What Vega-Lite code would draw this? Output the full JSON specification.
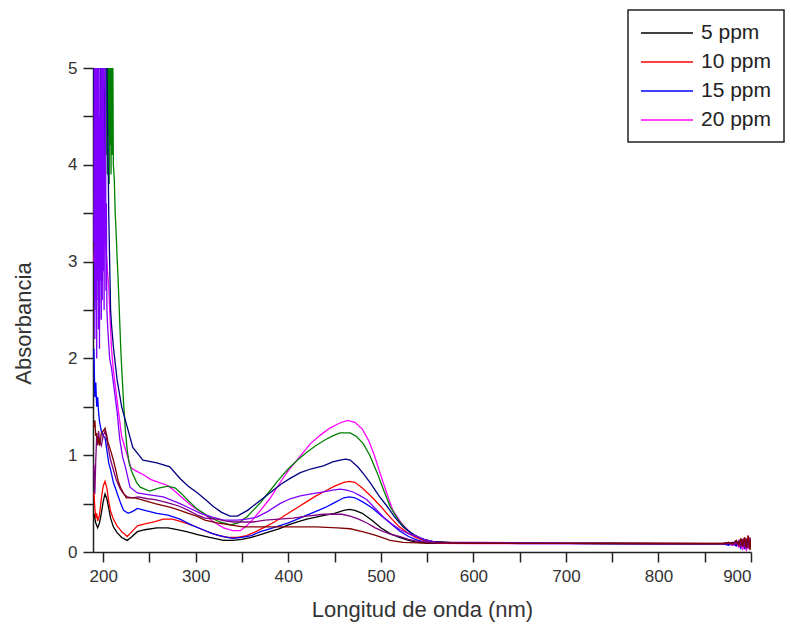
{
"$schema":"https://vega.github.io/schema/vega-lite/v6.json",
"width":658,"height":484,
"autosize":{"type":"none"},
"padding":{"left":93,"top":68,"right":40,"bottom":74},
"background":"white",
"config":{"view":{"stroke":null},"font":"Liberation Sans"},
"datasets":{
"spec":[
{"s":"5 ppm","x":190,"y":0.40},{"s":"5 ppm","x":192,"y":0.30},{"s":"5 ppm","x":194,"y":0.25},{"s":"5 ppm","x":196,"y":0.30},{"s":"5 ppm","x":198,"y":0.40},{"s":"5 ppm","x":200,"y":0.52},{"s":"5 ppm","x":202,"y":0.60},{"s":"5 ppm","x":204,"y":0.55},{"s":"5 ppm","x":206,"y":0.45},{"s":"5 ppm","x":208,"y":0.35},{"s":"5 ppm","x":211,"y":0.26},{"s":"5 ppm","x":215,"y":0.20},{"s":"5 ppm","x":220,"y":0.15},{"s":"5 ppm","x":226,"y":0.12},{"s":"5 ppm","x":230,"y":0.15},{"s":"5 ppm","x":237,"y":0.21},{"s":"5 ppm","x":245,"y":0.23},{"s":"5 ppm","x":258,"y":0.25},{"s":"5 ppm","x":270,"y":0.25},{"s":"5 ppm","x":280,"y":0.23},{"s":"5 ppm","x":290,"y":0.21},{"s":"5 ppm","x":302,"y":0.18},{"s":"5 ppm","x":315,"y":0.15},{"s":"5 ppm","x":330,"y":0.12},{"s":"5 ppm","x":340,"y":0.12},{"s":"5 ppm","x":350,"y":0.13},{"s":"5 ppm","x":360,"y":0.15},{"s":"5 ppm","x":370,"y":0.18},{"s":"5 ppm","x":380,"y":0.21},{"s":"5 ppm","x":390,"y":0.24},{"s":"5 ppm","x":400,"y":0.28},{"s":"5 ppm","x":410,"y":0.31},{"s":"5 ppm","x":420,"y":0.34},{"s":"5 ppm","x":430,"y":0.36},{"s":"5 ppm","x":440,"y":0.38},{"s":"5 ppm","x":450,"y":0.40},{"s":"5 ppm","x":460,"y":0.43},{"s":"5 ppm","x":466,"y":0.44},{"s":"5 ppm","x":472,"y":0.43},{"s":"5 ppm","x":480,"y":0.40},{"s":"5 ppm","x":490,"y":0.33},{"s":"5 ppm","x":500,"y":0.25},{"s":"5 ppm","x":510,"y":0.19},{"s":"5 ppm","x":520,"y":0.15},{"s":"5 ppm","x":530,"y":0.12},{"s":"5 ppm","x":540,"y":0.10},{"s":"5 ppm","x":550,"y":0.09},{"s":"5 ppm","x":560,"y":0.095},{"s":"5 ppm","x":600,"y":0.09},{"s":"5 ppm","x":650,"y":0.09},{"s":"5 ppm","x":700,"y":0.09},{"s":"5 ppm","x":750,"y":0.088},{"s":"5 ppm","x":800,"y":0.087},{"s":"5 ppm","x":850,"y":0.086},{"s":"5 ppm","x":870,"y":0.086},{"s":"5 ppm","x":876,"y":0.09},{"s":"5 ppm","x":880,"y":0.07},{"s":"5 ppm","x":884,"y":0.10},{"s":"5 ppm","x":887,"y":0.06},{"s":"5 ppm","x":889,"y":0.11},{"s":"5 ppm","x":891,"y":0.05},{"s":"5 ppm","x":893,"y":0.12},{"s":"5 ppm","x":895,"y":0.07},{"s":"5 ppm","x":897,"y":0.13},{"s":"5 ppm","x":899,"y":0.04},{"s":"5 ppm","x":900,"y":0.10},

{"s":"10 ppm","x":190,"y":0.62},{"s":"10 ppm","x":191,"y":0.45},{"s":"10 ppm","x":192,"y":0.35},{"s":"10 ppm","x":193,"y":0.40},{"s":"10 ppm","x":194,"y":0.32},{"s":"10 ppm","x":196,"y":0.38},{"s":"10 ppm","x":198,"y":0.55},{"s":"10 ppm","x":200,"y":0.68},{"s":"10 ppm","x":202,"y":0.73},{"s":"10 ppm","x":204,"y":0.66},{"s":"10 ppm","x":206,"y":0.52},{"s":"10 ppm","x":208,"y":0.42},{"s":"10 ppm","x":211,"y":0.34},{"s":"10 ppm","x":215,"y":0.27},{"s":"10 ppm","x":220,"y":0.21},{"s":"10 ppm","x":226,"y":0.16},{"s":"10 ppm","x":230,"y":0.20},{"s":"10 ppm","x":237,"y":0.27},{"s":"10 ppm","x":245,"y":0.29},{"s":"10 ppm","x":255,"y":0.31},{"s":"10 ppm","x":265,"y":0.34},{"s":"10 ppm","x":275,"y":0.34},{"s":"10 ppm","x":285,"y":0.31},{"s":"10 ppm","x":295,"y":0.28},{"s":"10 ppm","x":305,"y":0.24},{"s":"10 ppm","x":315,"y":0.20},{"s":"10 ppm","x":325,"y":0.17},{"s":"10 ppm","x":335,"y":0.15},{"s":"10 ppm","x":345,"y":0.15},{"s":"10 ppm","x":355,"y":0.17},{"s":"10 ppm","x":365,"y":0.21},{"s":"10 ppm","x":375,"y":0.26},{"s":"10 ppm","x":385,"y":0.31},{"s":"10 ppm","x":400,"y":0.40},{"s":"10 ppm","x":410,"y":0.46},{"s":"10 ppm","x":420,"y":0.52},{"s":"10 ppm","x":430,"y":0.58},{"s":"10 ppm","x":440,"y":0.63},{"s":"10 ppm","x":450,"y":0.68},{"s":"10 ppm","x":460,"y":0.72},{"s":"10 ppm","x":466,"y":0.73},{"s":"10 ppm","x":472,"y":0.72},{"s":"10 ppm","x":480,"y":0.66},{"s":"10 ppm","x":490,"y":0.57},{"s":"10 ppm","x":500,"y":0.47},{"s":"10 ppm","x":510,"y":0.36},{"s":"10 ppm","x":520,"y":0.26},{"s":"10 ppm","x":530,"y":0.19},{"s":"10 ppm","x":540,"y":0.14},{"s":"10 ppm","x":550,"y":0.11},{"s":"10 ppm","x":560,"y":0.10},{"s":"10 ppm","x":600,"y":0.095},{"s":"10 ppm","x":650,"y":0.09},{"s":"10 ppm","x":700,"y":0.09},{"s":"10 ppm","x":750,"y":0.089},{"s":"10 ppm","x":800,"y":0.088},{"s":"10 ppm","x":850,"y":0.087},{"s":"10 ppm","x":870,"y":0.087},{"s":"10 ppm","x":876,"y":0.10},{"s":"10 ppm","x":880,"y":0.08},{"s":"10 ppm","x":884,"y":0.11},{"s":"10 ppm","x":887,"y":0.09},{"s":"10 ppm","x":889,"y":0.13},{"s":"10 ppm","x":891,"y":0.07},{"s":"10 ppm","x":893,"y":0.15},{"s":"10 ppm","x":895,"y":0.06},{"s":"10 ppm","x":897,"y":0.17},{"s":"10 ppm","x":899,"y":0.09},{"s":"10 ppm","x":900,"y":0.12},

{"s":"15 ppm","x":190,"y":2.1},{"s":"15 ppm","x":191,"y":1.6},{"s":"15 ppm","x":192,"y":1.75},{"s":"15 ppm","x":193,"y":1.5},{"s":"15 ppm","x":194,"y":1.6},{"s":"15 ppm","x":195,"y":1.45},{"s":"15 ppm","x":196,"y":1.35},{"s":"15 ppm","x":198,"y":1.25},{"s":"15 ppm","x":200,"y":1.2},{"s":"15 ppm","x":202,"y":1.18},{"s":"15 ppm","x":204,"y":1.05},{"s":"15 ppm","x":206,"y":0.92},{"s":"15 ppm","x":208,"y":0.85},{"s":"15 ppm","x":211,"y":0.72},{"s":"15 ppm","x":215,"y":0.61},{"s":"15 ppm","x":219,"y":0.50},{"s":"15 ppm","x":222,"y":0.43},{"s":"15 ppm","x":227,"y":0.40},{"s":"15 ppm","x":232,"y":0.42},{"s":"15 ppm","x":237,"y":0.45},{"s":"15 ppm","x":245,"y":0.43},{"s":"15 ppm","x":258,"y":0.40},{"s":"15 ppm","x":270,"y":0.38},{"s":"15 ppm","x":283,"y":0.34},{"s":"15 ppm","x":295,"y":0.28},{"s":"15 ppm","x":308,"y":0.23},{"s":"15 ppm","x":318,"y":0.19},{"s":"15 ppm","x":330,"y":0.16},{"s":"15 ppm","x":340,"y":0.14},{"s":"15 ppm","x":350,"y":0.15},{"s":"15 ppm","x":360,"y":0.17},{"s":"15 ppm","x":370,"y":0.21},{"s":"15 ppm","x":380,"y":0.24},{"s":"15 ppm","x":390,"y":0.27},{"s":"15 ppm","x":400,"y":0.30},{"s":"15 ppm","x":410,"y":0.34},{"s":"15 ppm","x":420,"y":0.38},{"s":"15 ppm","x":430,"y":0.42},{"s":"15 ppm","x":440,"y":0.46},{"s":"15 ppm","x":450,"y":0.51},{"s":"15 ppm","x":460,"y":0.56},{"s":"15 ppm","x":466,"y":0.57},{"s":"15 ppm","x":472,"y":0.56},{"s":"15 ppm","x":480,"y":0.52},{"s":"15 ppm","x":490,"y":0.46},{"s":"15 ppm","x":500,"y":0.38},{"s":"15 ppm","x":510,"y":0.30},{"s":"15 ppm","x":520,"y":0.22},{"s":"15 ppm","x":530,"y":0.16},{"s":"15 ppm","x":540,"y":0.12},{"s":"15 ppm","x":550,"y":0.10},{"s":"15 ppm","x":560,"y":0.09},{"s":"15 ppm","x":600,"y":0.09},{"s":"15 ppm","x":650,"y":0.088},{"s":"15 ppm","x":700,"y":0.087},{"s":"15 ppm","x":750,"y":0.086},{"s":"15 ppm","x":800,"y":0.085},{"s":"15 ppm","x":850,"y":0.084},{"s":"15 ppm","x":870,"y":0.084},{"s":"15 ppm","x":876,"y":0.07},{"s":"15 ppm","x":880,"y":0.09},{"s":"15 ppm","x":884,"y":0.06},{"s":"15 ppm","x":887,"y":0.10},{"s":"15 ppm","x":889,"y":0.04},{"s":"15 ppm","x":891,"y":0.11},{"s":"15 ppm","x":893,"y":0.03},{"s":"15 ppm","x":895,"y":0.10},{"s":"15 ppm","x":897,"y":0.05},{"s":"15 ppm","x":899,"y":0.12},{"s":"15 ppm","x":900,"y":0.04},

{"s":"20 ppm","x":190,"y":3.0},{"s":"20 ppm","x":192,"y":3.5},{"s":"20 ppm","x":194,"y":2.8},{"s":"20 ppm","x":196,"y":3.3},{"s":"20 ppm","x":198,"y":3.0},{"s":"20 ppm","x":200,"y":3.2},{"s":"20 ppm","x":202,"y":3.25},{"s":"20 ppm","x":204,"y":3.0},{"s":"20 ppm","x":205,"y":2.85},{"s":"20 ppm","x":206,"y":2.75},{"s":"20 ppm","x":207,"y":2.5},{"s":"20 ppm","x":208,"y":2.3},{"s":"20 ppm","x":209,"y":2.1},{"s":"20 ppm","x":211,"y":1.88},{"s":"20 ppm","x":215,"y":1.57},{"s":"20 ppm","x":220,"y":1.19},{"s":"20 ppm","x":226,"y":1.0},{"s":"20 ppm","x":230,"y":0.87},{"s":"20 ppm","x":235,"y":0.84},{"s":"20 ppm","x":245,"y":0.79},{"s":"20 ppm","x":251,"y":0.75},{"s":"20 ppm","x":260,"y":0.72},{"s":"20 ppm","x":269,"y":0.69},{"s":"20 ppm","x":276,"y":0.64},{"s":"20 ppm","x":283,"y":0.58},{"s":"20 ppm","x":295,"y":0.48},{"s":"20 ppm","x":308,"y":0.40},{"s":"20 ppm","x":318,"y":0.32},{"s":"20 ppm","x":330,"y":0.25},{"s":"20 ppm","x":340,"y":0.22},{"s":"20 ppm","x":348,"y":0.22},{"s":"20 ppm","x":355,"y":0.27},{"s":"20 ppm","x":362,"y":0.34},{"s":"20 ppm","x":370,"y":0.43},{"s":"20 ppm","x":380,"y":0.55},{"s":"20 ppm","x":390,"y":0.70},{"s":"20 ppm","x":400,"y":0.84},{"s":"20 ppm","x":412,"y":0.98},{"s":"20 ppm","x":424,"y":1.12},{"s":"20 ppm","x":435,"y":1.21},{"s":"20 ppm","x":445,"y":1.28},{"s":"20 ppm","x":455,"y":1.33},{"s":"20 ppm","x":464,"y":1.36},{"s":"20 ppm","x":472,"y":1.34},{"s":"20 ppm","x":480,"y":1.27},{"s":"20 ppm","x":487,"y":1.15},{"s":"20 ppm","x":493,"y":1.0},{"s":"20 ppm","x":499,"y":0.82},{"s":"20 ppm","x":506,"y":0.62},{"s":"20 ppm","x":513,"y":0.43},{"s":"20 ppm","x":522,"y":0.30},{"s":"20 ppm","x":532,"y":0.20},{"s":"20 ppm","x":543,"y":0.14},{"s":"20 ppm","x":553,"y":0.11},{"s":"20 ppm","x":565,"y":0.09},{"s":"20 ppm","x":600,"y":0.088},{"s":"20 ppm","x":650,"y":0.087},{"s":"20 ppm","x":700,"y":0.086},{"s":"20 ppm","x":750,"y":0.085},{"s":"20 ppm","x":800,"y":0.085},{"s":"20 ppm","x":850,"y":0.084},{"s":"20 ppm","x":870,"y":0.084},{"s":"20 ppm","x":876,"y":0.09},{"s":"20 ppm","x":880,"y":0.07},{"s":"20 ppm","x":884,"y":0.08},{"s":"20 ppm","x":887,"y":0.05},{"s":"20 ppm","x":889,"y":0.09},{"s":"20 ppm","x":891,"y":0.03},{"s":"20 ppm","x":893,"y":0.08},{"s":"20 ppm","x":895,"y":0.02},{"s":"20 ppm","x":897,"y":0.07},{"s":"20 ppm","x":899,"y":0.04},{"s":"20 ppm","x":900,"y":0.06},

{"s":"25 ppm","x":190,"y":3.5},{"s":"25 ppm","x":192,"y":4.6},{"s":"25 ppm","x":194,"y":5},{"s":"25 ppm","x":200,"y":5},{"s":"25 ppm","x":203,"y":5},{"s":"25 ppm","x":203.5,"y":4.1},{"s":"25 ppm","x":204,"y":5},{"s":"25 ppm","x":204.5,"y":3.9},{"s":"25 ppm","x":205,"y":5},{"s":"25 ppm","x":205.5,"y":4.3},{"s":"25 ppm","x":206,"y":5},{"s":"25 ppm","x":206.5,"y":3.8},{"s":"25 ppm","x":207,"y":5},{"s":"25 ppm","x":207.5,"y":4.2},{"s":"25 ppm","x":208,"y":5},{"s":"25 ppm","x":208.5,"y":3.9},{"s":"25 ppm","x":209,"y":5},{"s":"25 ppm","x":209.5,"y":4.1},{"s":"25 ppm","x":210,"y":5},{"s":"25 ppm","x":210.5,"y":5},{"s":"25 ppm","x":211,"y":4.0},{"s":"25 ppm","x":212,"y":3.85},{"s":"25 ppm","x":213,"y":3.5},{"s":"25 ppm","x":214,"y":3.3},{"s":"25 ppm","x":215,"y":3.05},{"s":"25 ppm","x":216,"y":2.85},{"s":"25 ppm","x":217,"y":2.6},{"s":"25 ppm","x":218,"y":2.35},{"s":"25 ppm","x":219,"y":2.1},{"s":"25 ppm","x":220,"y":1.9},{"s":"25 ppm","x":222,"y":1.55},{"s":"25 ppm","x":224,"y":1.25},{"s":"25 ppm","x":226,"y":1.05},{"s":"25 ppm","x":228,"y":0.92},{"s":"25 ppm","x":231,"y":0.83},{"s":"25 ppm","x":236,"y":0.72},{"s":"25 ppm","x":240,"y":0.67},{"s":"25 ppm","x":250,"y":0.63},{"s":"25 ppm","x":260,"y":0.66},{"s":"25 ppm","x":270,"y":0.68},{"s":"25 ppm","x":278,"y":0.66},{"s":"25 ppm","x":285,"y":0.60},{"s":"25 ppm","x":292,"y":0.53},{"s":"25 ppm","x":302,"y":0.44},{"s":"25 ppm","x":315,"y":0.36},{"s":"25 ppm","x":326,"y":0.31},{"s":"25 ppm","x":338,"y":0.28},{"s":"25 ppm","x":346,"y":0.30},{"s":"25 ppm","x":355,"y":0.36},{"s":"25 ppm","x":362,"y":0.43},{"s":"25 ppm","x":370,"y":0.51},{"s":"25 ppm","x":380,"y":0.63},{"s":"25 ppm","x":390,"y":0.75},{"s":"25 ppm","x":400,"y":0.86},{"s":"25 ppm","x":410,"y":0.95},{"s":"25 ppm","x":420,"y":1.03},{"s":"25 ppm","x":430,"y":1.10},{"s":"25 ppm","x":440,"y":1.16},{"s":"25 ppm","x":448,"y":1.20},{"s":"25 ppm","x":456,"y":1.23},{"s":"25 ppm","x":467,"y":1.23},{"s":"25 ppm","x":474,"y":1.19},{"s":"25 ppm","x":481,"y":1.12},{"s":"25 ppm","x":488,"y":1.00},{"s":"25 ppm","x":496,"y":0.82},{"s":"25 ppm","x":503,"y":0.64},{"s":"25 ppm","x":510,"y":0.47},{"s":"25 ppm","x":519,"y":0.33},{"s":"25 ppm","x":528,"y":0.23},{"s":"25 ppm","x":537,"y":0.17},{"s":"25 ppm","x":546,"y":0.13},{"s":"25 ppm","x":556,"y":0.11},{"s":"25 ppm","x":580,"y":0.095},{"s":"25 ppm","x":650,"y":0.09},{"s":"25 ppm","x":700,"y":0.09},{"s":"25 ppm","x":750,"y":0.088},{"s":"25 ppm","x":800,"y":0.087},{"s":"25 ppm","x":850,"y":0.086},{"s":"25 ppm","x":870,"y":0.086},{"s":"25 ppm","x":876,"y":0.10},{"s":"25 ppm","x":880,"y":0.09},{"s":"25 ppm","x":884,"y":0.11},{"s":"25 ppm","x":887,"y":0.08},{"s":"25 ppm","x":889,"y":0.12},{"s":"25 ppm","x":891,"y":0.07},{"s":"25 ppm","x":893,"y":0.13},{"s":"25 ppm","x":895,"y":0.06},{"s":"25 ppm","x":897,"y":0.14},{"s":"25 ppm","x":899,"y":0.08},{"s":"25 ppm","x":900,"y":0.12},

{"s":"30 ppm","x":190,"y":5},{"s":"30 ppm","x":191,"y":2.5},{"s":"30 ppm","x":192,"y":4},{"s":"30 ppm","x":193,"y":2.6},{"s":"30 ppm","x":194,"y":5},{"s":"30 ppm","x":195,"y":3.0},{"s":"30 ppm","x":196,"y":2.4},{"s":"30 ppm","x":197,"y":5},{"s":"30 ppm","x":198,"y":3.5},{"s":"30 ppm","x":199,"y":2.8},{"s":"30 ppm","x":200,"y":5},{"s":"30 ppm","x":201,"y":4},{"s":"30 ppm","x":202,"y":5},{"s":"30 ppm","x":204,"y":5},{"s":"30 ppm","x":205,"y":4.3},{"s":"30 ppm","x":206,"y":3.5},{"s":"30 ppm","x":207,"y":3.0},{"s":"30 ppm","x":208,"y":2.5},{"s":"30 ppm","x":209,"y":2.35},{"s":"30 ppm","x":211,"y":2.12},{"s":"30 ppm","x":215,"y":1.78},{"s":"30 ppm","x":220,"y":1.5},{"s":"30 ppm","x":226,"y":1.29},{"s":"30 ppm","x":232,"y":1.08},{"s":"30 ppm","x":243,"y":0.95},{"s":"30 ppm","x":258,"y":0.92},{"s":"30 ppm","x":272,"y":0.88},{"s":"30 ppm","x":283,"y":0.76},{"s":"30 ppm","x":292,"y":0.68},{"s":"30 ppm","x":302,"y":0.61},{"s":"30 ppm","x":312,"y":0.53},{"s":"30 ppm","x":319,"y":0.47},{"s":"30 ppm","x":328,"y":0.41},{"s":"30 ppm","x":337,"y":0.37},{"s":"30 ppm","x":345,"y":0.37},{"s":"30 ppm","x":356,"y":0.43},{"s":"30 ppm","x":368,"y":0.52},{"s":"30 ppm","x":380,"y":0.61},{"s":"30 ppm","x":392,"y":0.70},{"s":"30 ppm","x":402,"y":0.76},{"s":"30 ppm","x":413,"y":0.82},{"s":"30 ppm","x":425,"y":0.86},{"s":"30 ppm","x":438,"y":0.89},{"s":"30 ppm","x":448,"y":0.93},{"s":"30 ppm","x":456,"y":0.95},{"s":"30 ppm","x":462,"y":0.96},{"s":"30 ppm","x":467,"y":0.95},{"s":"30 ppm","x":475,"y":0.88},{"s":"30 ppm","x":482,"y":0.80},{"s":"30 ppm","x":489,"y":0.71},{"s":"30 ppm","x":498,"y":0.58},{"s":"30 ppm","x":507,"y":0.47},{"s":"30 ppm","x":515,"y":0.36},{"s":"30 ppm","x":524,"y":0.26},{"s":"30 ppm","x":535,"y":0.18},{"s":"30 ppm","x":546,"y":0.13},{"s":"30 ppm","x":556,"y":0.11},{"s":"30 ppm","x":580,"y":0.095},{"s":"30 ppm","x":650,"y":0.09},{"s":"30 ppm","x":700,"y":0.09},{"s":"30 ppm","x":750,"y":0.088},{"s":"30 ppm","x":800,"y":0.087},{"s":"30 ppm","x":850,"y":0.086},{"s":"30 ppm","x":870,"y":0.086},{"s":"30 ppm","x":876,"y":0.08},{"s":"30 ppm","x":880,"y":0.10},{"s":"30 ppm","x":884,"y":0.07},{"s":"30 ppm","x":887,"y":0.11},{"s":"30 ppm","x":889,"y":0.06},{"s":"30 ppm","x":891,"y":0.12},{"s":"30 ppm","x":893,"y":0.05},{"s":"30 ppm","x":895,"y":0.13},{"s":"30 ppm","x":897,"y":0.05},{"s":"30 ppm","x":899,"y":0.12},{"s":"30 ppm","x":900,"y":0.08},

{"s":"35 ppm","x":190,"y":3.2},{"s":"35 ppm","x":190.5,"y":5},{"s":"35 ppm","x":191,"y":2.2},{"s":"35 ppm","x":191.5,"y":5},{"s":"35 ppm","x":192,"y":2.6},{"s":"35 ppm","x":192.5,"y":5},{"s":"35 ppm","x":193,"y":2.0},{"s":"35 ppm","x":193.5,"y":5},{"s":"35 ppm","x":194,"y":3.0},{"s":"35 ppm","x":194.5,"y":5},{"s":"35 ppm","x":195,"y":2.3},{"s":"35 ppm","x":195.5,"y":5},{"s":"35 ppm","x":196,"y":2.1},{"s":"35 ppm","x":196.5,"y":4.5},{"s":"35 ppm","x":197,"y":2.8},{"s":"35 ppm","x":197.5,"y":5},{"s":"35 ppm","x":198,"y":2.4},{"s":"35 ppm","x":198.5,"y":5},{"s":"35 ppm","x":199,"y":2.6},{"s":"35 ppm","x":199.5,"y":5},{"s":"35 ppm","x":200,"y":2.9},{"s":"35 ppm","x":200.5,"y":5},{"s":"35 ppm","x":201,"y":2.5},{"s":"35 ppm","x":201.5,"y":4.0},{"s":"35 ppm","x":202,"y":3.2},{"s":"35 ppm","x":202.5,"y":5},{"s":"35 ppm","x":203,"y":2.7},{"s":"35 ppm","x":203.5,"y":3.6},{"s":"35 ppm","x":204,"y":2.5},{"s":"35 ppm","x":205,"y":2.3},{"s":"35 ppm","x":206,"y":2.15},{"s":"35 ppm","x":207,"y":2.0},{"s":"35 ppm","x":209,"y":1.9},{"s":"35 ppm","x":211,"y":1.75},{"s":"35 ppm","x":213,"y":1.6},{"s":"35 ppm","x":215,"y":1.45},{"s":"35 ppm","x":218,"y":1.16},{"s":"35 ppm","x":221,"y":0.98},{"s":"35 ppm","x":224,"y":0.88},{"s":"35 ppm","x":229,"y":0.67},{"s":"35 ppm","x":237,"y":0.61},{"s":"35 ppm","x":250,"y":0.59},{"s":"35 ppm","x":265,"y":0.57},{"s":"35 ppm","x":283,"y":0.50},{"s":"35 ppm","x":292,"y":0.46},{"s":"35 ppm","x":305,"y":0.40},{"s":"35 ppm","x":318,"y":0.36},{"s":"35 ppm","x":330,"y":0.33},{"s":"35 ppm","x":345,"y":0.33},{"s":"35 ppm","x":355,"y":0.34},{"s":"35 ppm","x":366,"y":0.36},{"s":"35 ppm","x":378,"y":0.42},{"s":"35 ppm","x":391,"y":0.50},{"s":"35 ppm","x":402,"y":0.55},{"s":"35 ppm","x":413,"y":0.58},{"s":"35 ppm","x":425,"y":0.60},{"s":"35 ppm","x":438,"y":0.62},{"s":"35 ppm","x":448,"y":0.64},{"s":"35 ppm","x":456,"y":0.65},{"s":"35 ppm","x":463,"y":0.64},{"s":"35 ppm","x":470,"y":0.62},{"s":"35 ppm","x":478,"y":0.58},{"s":"35 ppm","x":485,"y":0.54},{"s":"35 ppm","x":494,"y":0.45},{"s":"35 ppm","x":503,"y":0.36},{"s":"35 ppm","x":512,"y":0.29},{"s":"35 ppm","x":521,"y":0.23},{"s":"35 ppm","x":530,"y":0.19},{"s":"35 ppm","x":539,"y":0.16},{"s":"35 ppm","x":550,"y":0.12},{"s":"35 ppm","x":560,"y":0.10},{"s":"35 ppm","x":600,"y":0.095},{"s":"35 ppm","x":650,"y":0.092},{"s":"35 ppm","x":700,"y":0.09},{"s":"35 ppm","x":750,"y":0.089},{"s":"35 ppm","x":800,"y":0.088},{"s":"35 ppm","x":850,"y":0.087},{"s":"35 ppm","x":870,"y":0.087},{"s":"35 ppm","x":876,"y":0.09},{"s":"35 ppm","x":880,"y":0.08},{"s":"35 ppm","x":884,"y":0.10},{"s":"35 ppm","x":887,"y":0.07},{"s":"35 ppm","x":889,"y":0.11},{"s":"35 ppm","x":891,"y":0.06},{"s":"35 ppm","x":893,"y":0.09},{"s":"35 ppm","x":895,"y":0.04},{"s":"35 ppm","x":897,"y":0.10},{"s":"35 ppm","x":899,"y":0.05},{"s":"35 ppm","x":900,"y":0.08},

{"s":"40 ppm","x":190,"y":0.9},{"s":"40 ppm","x":191,"y":0.6},{"s":"40 ppm","x":192,"y":0.95},{"s":"40 ppm","x":193,"y":1.2},{"s":"40 ppm","x":194,"y":1.1},{"s":"40 ppm","x":195,"y":1.25},{"s":"40 ppm","x":196,"y":1.15},{"s":"40 ppm","x":198,"y":1.1},{"s":"40 ppm","x":200,"y":1.2},{"s":"40 ppm","x":202,"y":1.25},{"s":"40 ppm","x":204,"y":1.15},{"s":"40 ppm","x":206,"y":1.05},{"s":"40 ppm","x":208,"y":0.95},{"s":"40 ppm","x":211,"y":0.85},{"s":"40 ppm","x":214,"y":0.75},{"s":"40 ppm","x":218,"y":0.66},{"s":"40 ppm","x":222,"y":0.60},{"s":"40 ppm","x":226,"y":0.57},{"s":"40 ppm","x":232,"y":0.56},{"s":"40 ppm","x":238,"y":0.57},{"s":"40 ppm","x":248,"y":0.55},{"s":"40 ppm","x":256,"y":0.54},{"s":"40 ppm","x":265,"y":0.52},{"s":"40 ppm","x":273,"y":0.50},{"s":"40 ppm","x":283,"y":0.47},{"s":"40 ppm","x":292,"y":0.43},{"s":"40 ppm","x":302,"y":0.38},{"s":"40 ppm","x":310,"y":0.35},{"s":"40 ppm","x":323,"y":0.34},{"s":"40 ppm","x":333,"y":0.32},{"s":"40 ppm","x":341,"y":0.31},{"s":"40 ppm","x":352,"y":0.31},{"s":"40 ppm","x":362,"y":0.31},{"s":"40 ppm","x":375,"y":0.33},{"s":"40 ppm","x":390,"y":0.34},{"s":"40 ppm","x":405,"y":0.35},{"s":"40 ppm","x":420,"y":0.37},{"s":"40 ppm","x":438,"y":0.39},{"s":"40 ppm","x":450,"y":0.39},{"s":"40 ppm","x":458,"y":0.39},{"s":"40 ppm","x":467,"y":0.37},{"s":"40 ppm","x":476,"y":0.34},{"s":"40 ppm","x":485,"y":0.30},{"s":"40 ppm","x":494,"y":0.25},{"s":"40 ppm","x":503,"y":0.21},{"s":"40 ppm","x":512,"y":0.18},{"s":"40 ppm","x":521,"y":0.16},{"s":"40 ppm","x":530,"y":0.13},{"s":"40 ppm","x":540,"y":0.11},{"s":"40 ppm","x":555,"y":0.10},{"s":"40 ppm","x":600,"y":0.10},{"s":"40 ppm","x":650,"y":0.095},{"s":"40 ppm","x":700,"y":0.092},{"s":"40 ppm","x":750,"y":0.09},{"s":"40 ppm","x":800,"y":0.089},{"s":"40 ppm","x":850,"y":0.088},{"s":"40 ppm","x":870,"y":0.088},{"s":"40 ppm","x":876,"y":0.09},{"s":"40 ppm","x":880,"y":0.10},{"s":"40 ppm","x":884,"y":0.08},{"s":"40 ppm","x":887,"y":0.12},{"s":"40 ppm","x":889,"y":0.06},{"s":"40 ppm","x":891,"y":0.13},{"s":"40 ppm","x":893,"y":0.05},{"s":"40 ppm","x":895,"y":0.14},{"s":"40 ppm","x":897,"y":0.04},{"s":"40 ppm","x":899,"y":0.15},{"s":"40 ppm","x":900,"y":0.07},

{"s":"45 ppm","x":190,"y":1.29},{"s":"45 ppm","x":191,"y":1.36},{"s":"45 ppm","x":192,"y":1.2},{"s":"45 ppm","x":193,"y":1.23},{"s":"45 ppm","x":194,"y":1.12},{"s":"45 ppm","x":195,"y":1.18},{"s":"45 ppm","x":196,"y":1.1},{"s":"45 ppm","x":197,"y":1.15},{"s":"45 ppm","x":198,"y":1.23},{"s":"45 ppm","x":200,"y":1.25},{"s":"45 ppm","x":202,"y":1.28},{"s":"45 ppm","x":204,"y":1.2},{"s":"45 ppm","x":205,"y":1.14},{"s":"45 ppm","x":208,"y":1.05},{"s":"45 ppm","x":211,"y":0.95},{"s":"45 ppm","x":214,"y":0.83},{"s":"45 ppm","x":216,"y":0.74},{"s":"45 ppm","x":219,"y":0.66},{"s":"45 ppm","x":222,"y":0.61},{"s":"45 ppm","x":225,"y":0.56},{"s":"45 ppm","x":230,"y":0.56},{"s":"45 ppm","x":234,"y":0.56},{"s":"45 ppm","x":245,"y":0.53},{"s":"45 ppm","x":256,"y":0.50},{"s":"45 ppm","x":265,"y":0.48},{"s":"45 ppm","x":273,"y":0.46},{"s":"45 ppm","x":283,"y":0.43},{"s":"45 ppm","x":292,"y":0.40},{"s":"45 ppm","x":301,"y":0.37},{"s":"45 ppm","x":310,"y":0.33},{"s":"45 ppm","x":323,"y":0.30},{"s":"45 ppm","x":337,"y":0.28},{"s":"45 ppm","x":351,"y":0.26},{"s":"45 ppm","x":373,"y":0.26},{"s":"45 ppm","x":390,"y":0.26},{"s":"45 ppm","x":405,"y":0.26},{"s":"45 ppm","x":430,"y":0.26},{"s":"45 ppm","x":453,"y":0.25},{"s":"45 ppm","x":467,"y":0.24},{"s":"45 ppm","x":480,"y":0.21},{"s":"45 ppm","x":492,"y":0.18},{"s":"45 ppm","x":501,"y":0.15},{"s":"45 ppm","x":510,"y":0.12},{"s":"45 ppm","x":524,"y":0.10},{"s":"45 ppm","x":540,"y":0.095},{"s":"45 ppm","x":560,"y":0.092},{"s":"45 ppm","x":600,"y":0.09},{"s":"45 ppm","x":650,"y":0.09},{"s":"45 ppm","x":700,"y":0.09},{"s":"45 ppm","x":750,"y":0.089},{"s":"45 ppm","x":800,"y":0.088},{"s":"45 ppm","x":850,"y":0.088},{"s":"45 ppm","x":870,"y":0.088},{"s":"45 ppm","x":876,"y":0.10},{"s":"45 ppm","x":880,"y":0.08},{"s":"45 ppm","x":884,"y":0.12},{"s":"45 ppm","x":887,"y":0.07},{"s":"45 ppm","x":889,"y":0.14},{"s":"45 ppm","x":891,"y":0.06},{"s":"45 ppm","x":893,"y":0.15},{"s":"45 ppm","x":895,"y":0.04},{"s":"45 ppm","x":897,"y":0.17},{"s":"45 ppm","x":899,"y":0.02},{"s":"45 ppm","x":900,"y":0.13}
]},
"data":{"name":"spec"},
"mark":{"type":"line","strokeWidth":1.3,"clip":true},
"encoding":{
"x":{"field":"x","type":"quantitative","scale":{"domain":[189,900],"nice":false,"zero":false},
"axis":{"orient":"bottom","values":[200,250,300,350,400,450,500,550,600,650,700,750,800,850,900],"labelExpr":"datum.value % 100 === 0 ? format(datum.value, 'd') : ''","labelOverlap":false,"title":"Longitud de onda (nm)","grid":false,"domainColor":"#222","domainWidth":1.5,"tickColor":"#222","tickWidth":1.5,"tickSize":10,"labelFont":"Liberation Sans","labelFontSize":17,"labelColor":"#333","labelPadding":6,"titleFont":"Liberation Sans","titleFontSize":22,"titleFontWeight":"normal","titleColor":"#333","titleBaseline":"alphabetic","titleY":64,
"encode":{"ticks":{"update":{"y2":{"signal":"datum.value % 100 === 0 ? 10 : 6"}}}}}},
"y":{"field":"y","type":"quantitative","scale":{"domain":[0,5],"nice":false},
"axis":{"orient":"left","values":[0,0.5,1,1.5,2,2.5,3,3.5,4,4.5,5],"labelExpr":"datum.value % 1 === 0 ? format(datum.value, 'd') : ''","labelOverlap":false,"title":"Absorbancia","grid":false,"domainColor":"#222","domainWidth":1.5,"tickColor":"#222","tickWidth":1.5,"tickSize":10,"labelFont":"Liberation Sans","labelFontSize":17,"labelColor":"#333","labelPadding":6,"titleFont":"Liberation Sans","titleFontSize":22,"titleFontWeight":"normal","titleColor":"#333","titleBaseline":"alphabetic","titleX":-63,"titleY":255,
"encode":{"ticks":{"update":{"x2":{"signal":"datum.value % 1 === 0 ? -10 : -6"}}}}}},
"color":{"field":"s","type":"nominal",
"scale":{"domain":["5 ppm","10 ppm","15 ppm","20 ppm","25 ppm","30 ppm","35 ppm","40 ppm","45 ppm"],"range":["#000000","#FF0000","#0000FF","#FF00FF","#008000","#000080","#8000FF","#800080","#800000"]},
"legend":{"values":["5 ppm","10 ppm","15 ppm","20 ppm"],"title":null,"orient":"none","legendX":535,"legendY":-58,"strokeColor":"#222","fillColor":"white","padding":12,"symbolType":"M-1,0H4.2","symbolSize":400,"symbolStrokeWidth":1.5,"symbolFillColor":"transparent","rowPadding":8,"labelOffset":39,"labelFont":"Liberation Sans","labelFontSize":21,"labelColor":"#222","labelExpr":"datum.label + '\u00a0\u00a0\u00a0\u00a0\u00a0\u00a0'",
"encode":{"legend":{"update":{"strokeWidth":{"value":1.5}}}}}}
}
}
